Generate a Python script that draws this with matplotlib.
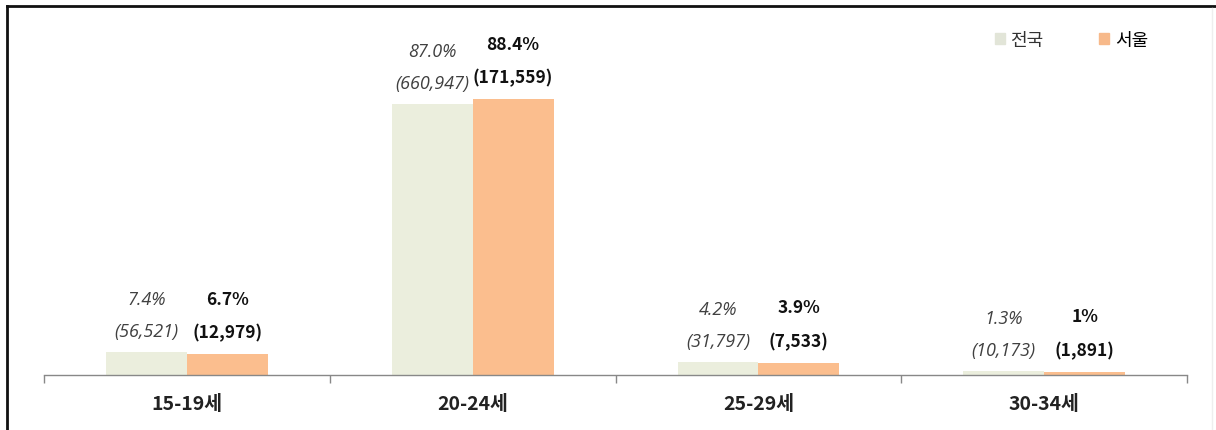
import matplotlib
matplotlib.use("Agg")
import matplotlib.pyplot as plt
from matplotlib.lines import Line2D
from matplotlib.patches import Patch
import numpy as np

plt.rcParams["font.family"] = ["Noto Sans CJK KR", "DejaVu Sans"]

categories = ["15-19세", "20-24세", "25-29세", "30-34세"]
series_names = ["전국", "서울"]
national_pct = [7.4, 87.0, 4.2, 1.3]
seoul_pct = [6.7, 88.4, 3.9, 1.0]
national_pct_labels = ["7.4%", "87.0%", "4.2%", "1.3%"]
seoul_pct_labels = ["6.7%", "88.4%", "3.9%", "1%"]
national_counts = ["(56,521)", "(660,947)", "(31,797)", "(10,173)"]
seoul_counts = ["(12,979)", "(171,559)", "(7,533)", "(1,891)"]

c_nat = "#EBEEDD"
c_seoul = "#FBBE8E"

fig = plt.figure(figsize=(12.16, 4.31), dpi=100)
ax = fig.add_axes([0.0362, 0.1276, 0.9400, 0.7240])

x = np.arange(len(categories))
w = 0.283
ax.bar(x - w / 2, national_pct, w, color=c_nat, linewidth=0)
ax.bar(x + w / 2, seoul_pct, w, color=c_seoul, linewidth=0)

ax.set_xlim(-0.5, len(categories) - 0.5)
ax.set_ylim(0, 100)

it_font = ["Open Sans", "Noto Sans CJK KR"]
for i in range(len(categories)):
    ax.annotate(national_pct_labels[i], (x[i] - w / 2, national_pct[i]),
                xytext=(0, 38), textcoords="offset points", ha="center", va="center",
                fontsize=13, style="italic", color="#404040", family=it_font,
                annotation_clip=False)
    ax.annotate(national_counts[i], (x[i] - w / 2, national_pct[i]),
                xytext=(0, 15), textcoords="offset points", ha="center", va="center",
                fontsize=13, style="italic", color="#404040", family=it_font,
                annotation_clip=False)
    ax.annotate(seoul_pct_labels[i], (x[i] + w / 2, seoul_pct[i]),
                xytext=(0, 40), textcoords="offset points", ha="center", va="center",
                fontsize=12.5, fontweight="bold", color="#111111",
                annotation_clip=False)
    ax.annotate(seoul_counts[i], (x[i] + w / 2, seoul_pct[i]),
                xytext=(0, 16), textcoords="offset points", ha="center", va="center",
                fontsize=12.5, fontweight="bold", color="#111111",
                annotation_clip=False)

# category labels at centres, tick marks at boundaries
ax.set_xticks(x)
ax.set_xticklabels(categories, fontsize=14, fontweight="bold", color="#222222")
ax.tick_params(axis="x", which="major", length=0, pad=14)
ax.set_xticks(np.arange(len(categories) + 1) - 0.5, minor=True)
ax.tick_params(axis="x", which="minor", length=6, color="#888888", width=1)
ax.set_yticks([])
for s in ["top", "right", "left"]:
    ax.spines[s].set_visible(False)
ax.spines["bottom"].set_color("#888888")
ax.spines["bottom"].set_linewidth(1)

handles = [Patch(color="#E2E5D8"), Patch(color="#F7B98A")]
leg = fig.legend(handles, series_names, loc="center", bbox_to_anchor=(0.881, 0.905),
                 ncol=2, frameon=False, handlelength=0.55, handleheight=0.55,
                 handletextpad=0.3, columnspacing=3.1, fontsize=13)
leg.get_texts()[0].set_color("#333333")

# outer frame lines
fig.add_artist(Line2D([0.0058, 1.0], [0.983, 0.983], color="#111111", lw=2,
                      transform=fig.transFigure))
fig.add_artist(Line2D([0.0058, 0.0058], [0.0, 0.983], color="#111111", lw=2,
                      transform=fig.transFigure))
fig.add_artist(Line2D([0.997, 0.997], [0.0, 0.98], color="#EEEEEE", lw=1,
                      transform=fig.transFigure))

fig.savefig("out.png", dpi=100)
